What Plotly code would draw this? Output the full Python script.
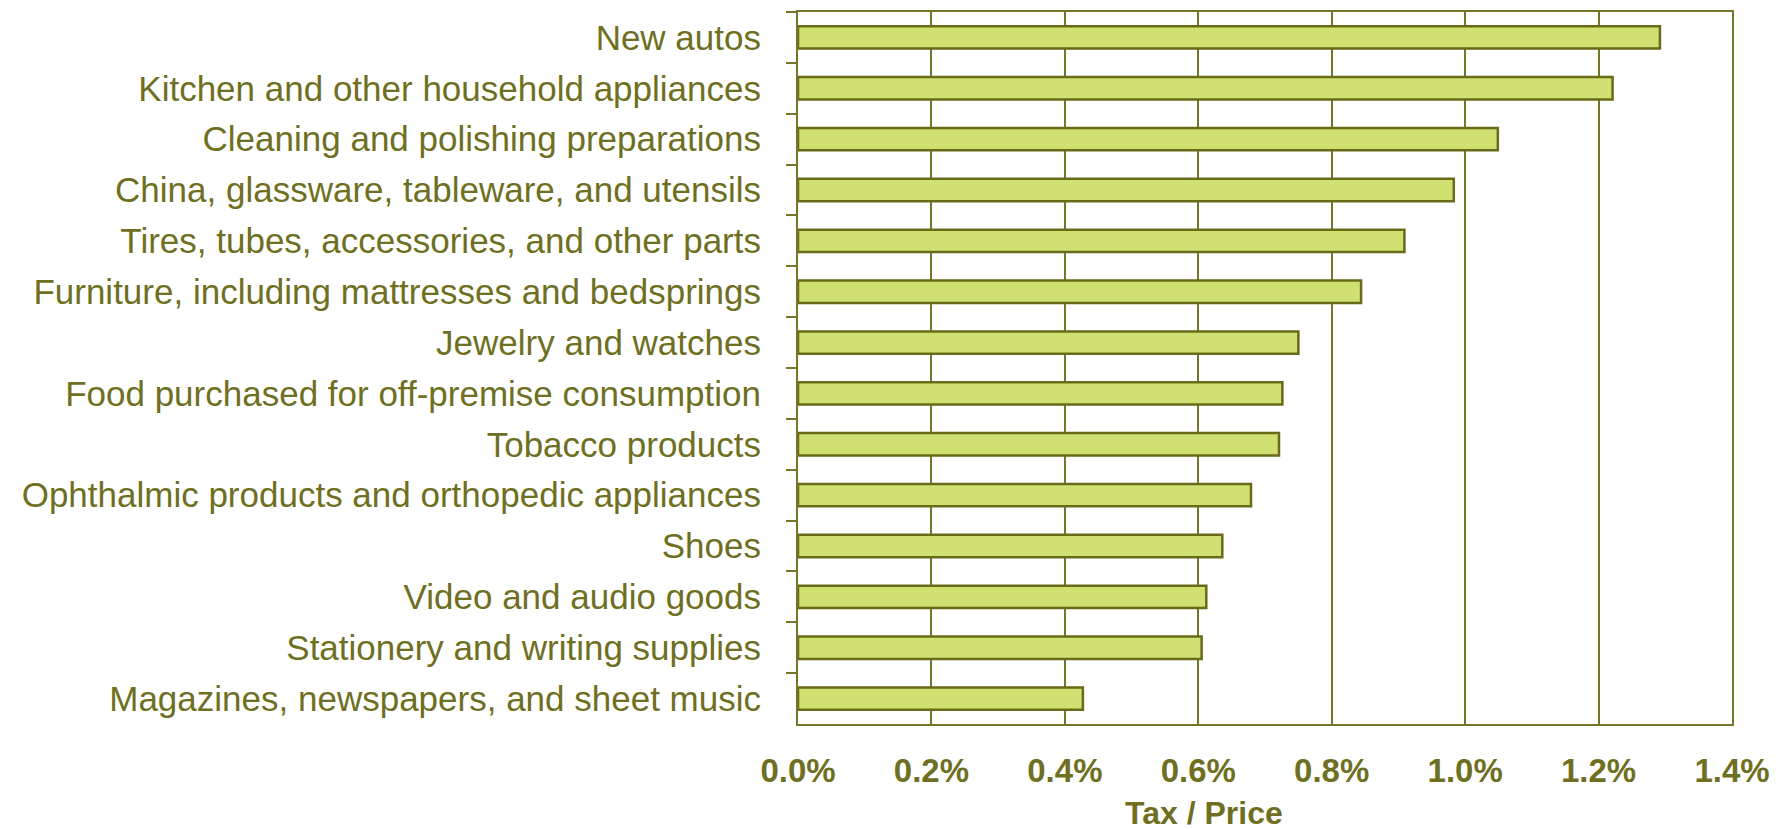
import plotly.graph_objects as go

categories = [
    "New autos",
    "Kitchen and other household appliances",
    "Cleaning and polishing preparations",
    "China, glassware, tableware, and utensils",
    "Tires, tubes, accessories, and other parts",
    "Furniture, including mattresses and bedsprings",
    "Jewelry and watches",
    "Food purchased for off-premise consumption",
    "Tobacco products",
    "Ophthalmic products and orthopedic appliances",
    "Shoes",
    "Video and audio goods",
    "Stationery and writing supplies",
    "Magazines, newspapers, and sheet music",
]
tax_price = [1.292, 1.221, 1.049, 0.983, 0.909, 0.844, 0.750, 0.726, 0.721,
             0.679, 0.636, 0.612, 0.605, 0.427]  # percent
x_ticks = [0.0, 0.2, 0.4, 0.6, 0.8, 1.0, 1.2, 1.4]
x_tick_labels = ["0.0%", "0.2%", "0.4%", "0.6%", "0.8%", "1.0%", "1.2%", "1.4%"]

OLIVE = "#767628"
TEXT = "#6f6f22"
FILL = "#d0e071"
FONT = "Liberation Sans, Arial, sans-serif"

fig = go.Figure(go.Bar(
    y=categories,
    x=tax_price,
    orientation="h",
    width=0.44,
    marker=dict(color=FILL, line=dict(color="#6a6a18", width=2.5)),
))

fig.update_layout(
    width=1790, height=829,
    margin=dict(l=790, r=66, t=2, b=113),
    paper_bgcolor="white", plot_bgcolor="white",
    showlegend=False,
    font=dict(family=FONT, color=TEXT),
    annotations=[dict(
        text="<b>Tax / Price</b>", xref="paper", yref="paper",
        x=0.435, y=0, yshift=-89, xanchor="center", yanchor="middle",
        showarrow=False, font=dict(size=32, color=TEXT, family=FONT),
    )],
)

fig.update_xaxes(
    range=[0, 1.4],
    tickvals=x_ticks, ticktext=x_tick_labels,
    tickfont=dict(size=33, color=TEXT, family=FONT, weight="bold"),
    showgrid=True, gridcolor=OLIVE, gridwidth=2,
    showline=True, linecolor=OLIVE, linewidth=2, mirror=True,
    ticks="", ticklabelstandoff=16,
    zeroline=False,
)

fig.update_yaxes(
    autorange="reversed",
    tickfont=dict(size=35, color=TEXT, family=FONT),
    showgrid=False,
    showline=True, linecolor=OLIVE, linewidth=2, mirror=True,
    ticks="outside", ticklen=10, tickwidth=2, tickcolor=OLIVE,
    tickson="boundaries",
    ticklabelstandoff=28,
)

fig.write_html("out.html")
